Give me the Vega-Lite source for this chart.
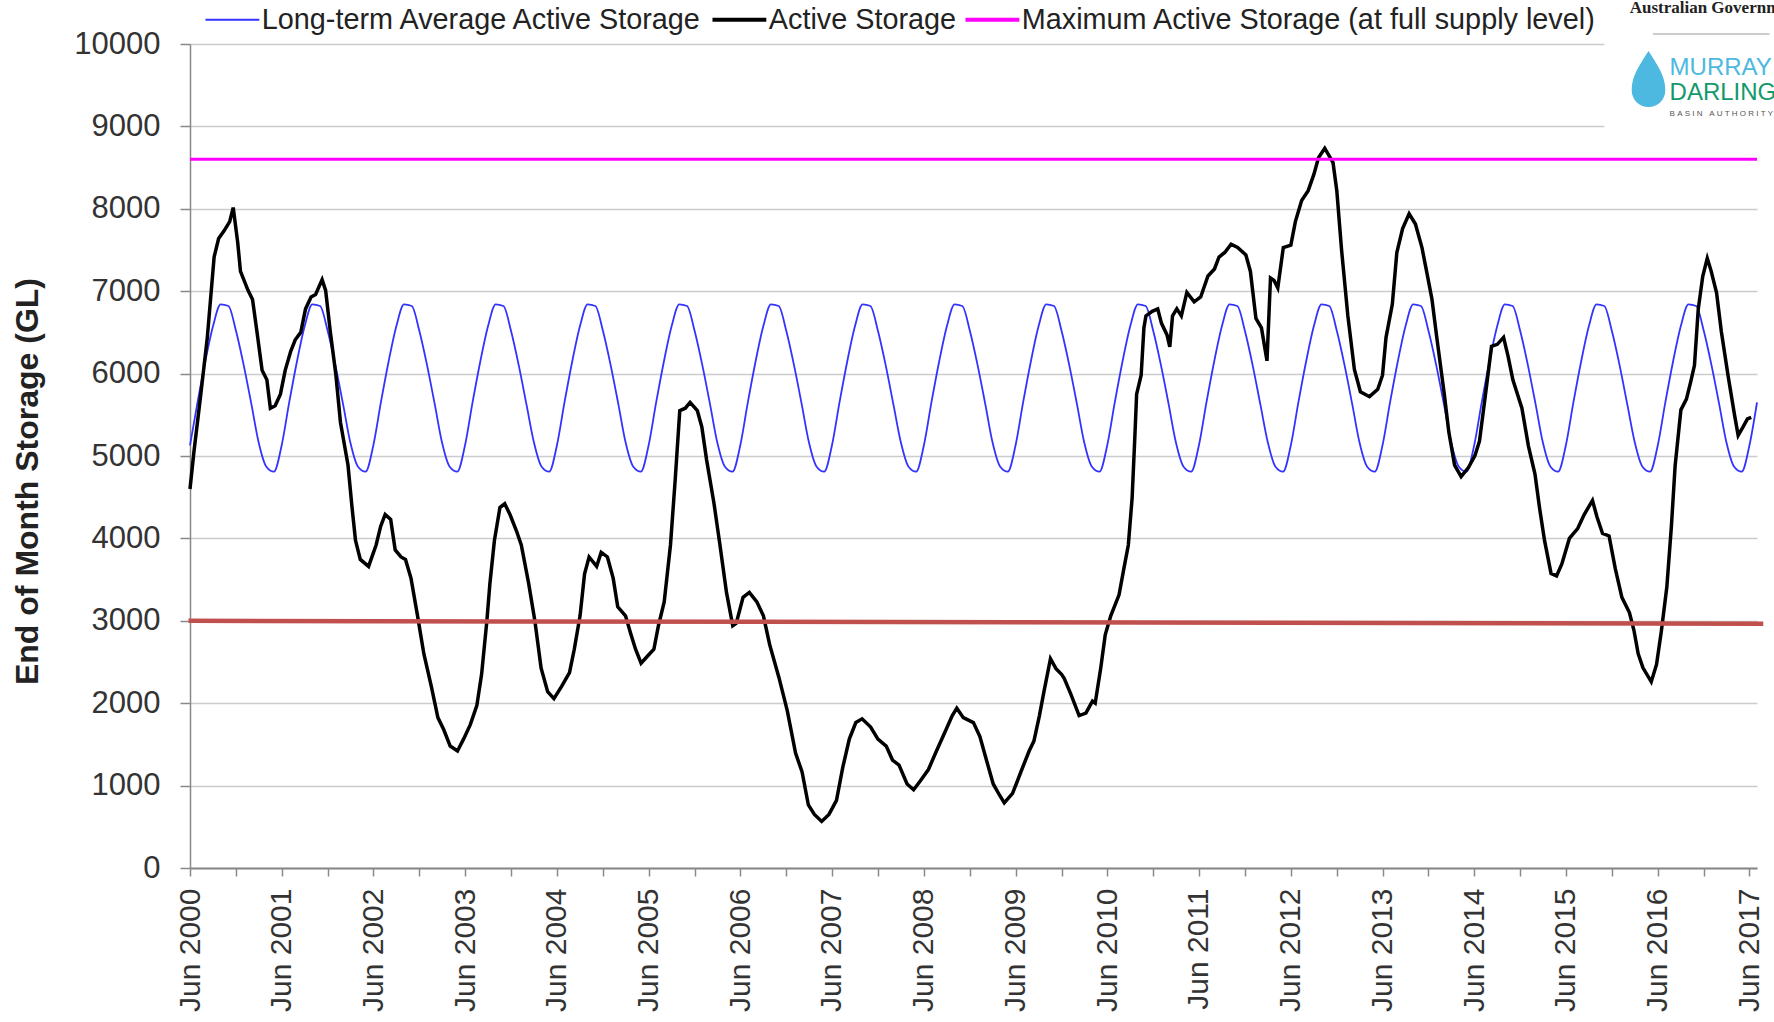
{
"$schema": "https://vega.github.io/schema/vega-lite/v6.json",
"width": 1567, "height": 824,
"autosize": {"type": "none"},
"padding": {"left": 190, "top": 44, "right": 17, "bottom": 154},
"background": "white",
"config": {"view": {"stroke": null}, "font": "Liberation Sans"},
"datasets": {
"average": [
{"date":"2000/06/01","value":5130},{"date":"2000/07/01","value":5650},{"date":"2000/08/01","value":6150},{"date":"2000/09/01","value":6580},{"date":"2000/10/01","value":6840},{"date":"2000/11/01","value":6820},{"date":"2000/12/01","value":6520},
{"date":"2001/01/01","value":6100},{"date":"2001/02/01","value":5620},{"date":"2001/03/01","value":5170},{"date":"2001/04/01","value":4870},{"date":"2001/05/01","value":4810},{"date":"2001/06/01","value":5130},{"date":"2001/07/01","value":5650},{"date":"2001/08/01","value":6150},{"date":"2001/09/01","value":6580},{"date":"2001/10/01","value":6840},{"date":"2001/11/01","value":6820},{"date":"2001/12/01","value":6520},
{"date":"2002/01/01","value":6100},{"date":"2002/02/01","value":5620},{"date":"2002/03/01","value":5170},{"date":"2002/04/01","value":4870},{"date":"2002/05/01","value":4810},{"date":"2002/06/01","value":5130},{"date":"2002/07/01","value":5650},{"date":"2002/08/01","value":6150},{"date":"2002/09/01","value":6580},{"date":"2002/10/01","value":6840},{"date":"2002/11/01","value":6820},{"date":"2002/12/01","value":6520},
{"date":"2003/01/01","value":6100},{"date":"2003/02/01","value":5620},{"date":"2003/03/01","value":5170},{"date":"2003/04/01","value":4870},{"date":"2003/05/01","value":4810},{"date":"2003/06/01","value":5130},{"date":"2003/07/01","value":5650},{"date":"2003/08/01","value":6150},{"date":"2003/09/01","value":6580},{"date":"2003/10/01","value":6840},{"date":"2003/11/01","value":6820},{"date":"2003/12/01","value":6520},
{"date":"2004/01/01","value":6100},{"date":"2004/02/01","value":5620},{"date":"2004/03/01","value":5170},{"date":"2004/04/01","value":4870},{"date":"2004/05/01","value":4810},{"date":"2004/06/01","value":5130},{"date":"2004/07/01","value":5650},{"date":"2004/08/01","value":6150},{"date":"2004/09/01","value":6580},{"date":"2004/10/01","value":6840},{"date":"2004/11/01","value":6820},{"date":"2004/12/01","value":6520},
{"date":"2005/01/01","value":6100},{"date":"2005/02/01","value":5620},{"date":"2005/03/01","value":5170},{"date":"2005/04/01","value":4870},{"date":"2005/05/01","value":4810},{"date":"2005/06/01","value":5130},{"date":"2005/07/01","value":5650},{"date":"2005/08/01","value":6150},{"date":"2005/09/01","value":6580},{"date":"2005/10/01","value":6840},{"date":"2005/11/01","value":6820},{"date":"2005/12/01","value":6520},
{"date":"2006/01/01","value":6100},{"date":"2006/02/01","value":5620},{"date":"2006/03/01","value":5170},{"date":"2006/04/01","value":4870},{"date":"2006/05/01","value":4810},{"date":"2006/06/01","value":5130},{"date":"2006/07/01","value":5650},{"date":"2006/08/01","value":6150},{"date":"2006/09/01","value":6580},{"date":"2006/10/01","value":6840},{"date":"2006/11/01","value":6820},{"date":"2006/12/01","value":6520},
{"date":"2007/01/01","value":6100},{"date":"2007/02/01","value":5620},{"date":"2007/03/01","value":5170},{"date":"2007/04/01","value":4870},{"date":"2007/05/01","value":4810},{"date":"2007/06/01","value":5130},{"date":"2007/07/01","value":5650},{"date":"2007/08/01","value":6150},{"date":"2007/09/01","value":6580},{"date":"2007/10/01","value":6840},{"date":"2007/11/01","value":6820},{"date":"2007/12/01","value":6520},
{"date":"2008/01/01","value":6100},{"date":"2008/02/01","value":5620},{"date":"2008/03/01","value":5170},{"date":"2008/04/01","value":4870},{"date":"2008/05/01","value":4810},{"date":"2008/06/01","value":5130},{"date":"2008/07/01","value":5650},{"date":"2008/08/01","value":6150},{"date":"2008/09/01","value":6580},{"date":"2008/10/01","value":6840},{"date":"2008/11/01","value":6820},{"date":"2008/12/01","value":6520},
{"date":"2009/01/01","value":6100},{"date":"2009/02/01","value":5620},{"date":"2009/03/01","value":5170},{"date":"2009/04/01","value":4870},{"date":"2009/05/01","value":4810},{"date":"2009/06/01","value":5130},{"date":"2009/07/01","value":5650},{"date":"2009/08/01","value":6150},{"date":"2009/09/01","value":6580},{"date":"2009/10/01","value":6840},{"date":"2009/11/01","value":6820},{"date":"2009/12/01","value":6520},
{"date":"2010/01/01","value":6100},{"date":"2010/02/01","value":5620},{"date":"2010/03/01","value":5170},{"date":"2010/04/01","value":4870},{"date":"2010/05/01","value":4810},{"date":"2010/06/01","value":5130},{"date":"2010/07/01","value":5650},{"date":"2010/08/01","value":6150},{"date":"2010/09/01","value":6580},{"date":"2010/10/01","value":6840},{"date":"2010/11/01","value":6820},{"date":"2010/12/01","value":6520},
{"date":"2011/01/01","value":6100},{"date":"2011/02/01","value":5620},{"date":"2011/03/01","value":5170},{"date":"2011/04/01","value":4870},{"date":"2011/05/01","value":4810},{"date":"2011/06/01","value":5130},{"date":"2011/07/01","value":5650},{"date":"2011/08/01","value":6150},{"date":"2011/09/01","value":6580},{"date":"2011/10/01","value":6840},{"date":"2011/11/01","value":6820},{"date":"2011/12/01","value":6520},
{"date":"2012/01/01","value":6100},{"date":"2012/02/01","value":5620},{"date":"2012/03/01","value":5170},{"date":"2012/04/01","value":4870},{"date":"2012/05/01","value":4810},{"date":"2012/06/01","value":5130},{"date":"2012/07/01","value":5650},{"date":"2012/08/01","value":6150},{"date":"2012/09/01","value":6580},{"date":"2012/10/01","value":6840},{"date":"2012/11/01","value":6820},{"date":"2012/12/01","value":6520},
{"date":"2013/01/01","value":6100},{"date":"2013/02/01","value":5620},{"date":"2013/03/01","value":5170},{"date":"2013/04/01","value":4870},{"date":"2013/05/01","value":4810},{"date":"2013/06/01","value":5130},{"date":"2013/07/01","value":5650},{"date":"2013/08/01","value":6150},{"date":"2013/09/01","value":6580},{"date":"2013/10/01","value":6840},{"date":"2013/11/01","value":6820},{"date":"2013/12/01","value":6520},
{"date":"2014/01/01","value":6100},{"date":"2014/02/01","value":5620},{"date":"2014/03/01","value":5170},{"date":"2014/04/01","value":4870},{"date":"2014/05/01","value":4810},{"date":"2014/06/01","value":5130},{"date":"2014/07/01","value":5650},{"date":"2014/08/01","value":6150},{"date":"2014/09/01","value":6580},{"date":"2014/10/01","value":6840},{"date":"2014/11/01","value":6820},{"date":"2014/12/01","value":6520},
{"date":"2015/01/01","value":6100},{"date":"2015/02/01","value":5620},{"date":"2015/03/01","value":5170},{"date":"2015/04/01","value":4870},{"date":"2015/05/01","value":4810},{"date":"2015/06/01","value":5130},{"date":"2015/07/01","value":5650},{"date":"2015/08/01","value":6150},{"date":"2015/09/01","value":6580},{"date":"2015/10/01","value":6840},{"date":"2015/11/01","value":6820},{"date":"2015/12/01","value":6520},
{"date":"2016/01/01","value":6100},{"date":"2016/02/01","value":5620},{"date":"2016/03/01","value":5170},{"date":"2016/04/01","value":4870},{"date":"2016/05/01","value":4810},{"date":"2016/06/01","value":5130},{"date":"2016/07/01","value":5650},{"date":"2016/08/01","value":6150},{"date":"2016/09/01","value":6580},{"date":"2016/10/01","value":6840},{"date":"2016/11/01","value":6820},{"date":"2016/12/01","value":6520},
{"date":"2017/01/01","value":6100},{"date":"2017/02/01","value":5620},{"date":"2017/03/01","value":5170},{"date":"2017/04/01","value":4870},{"date":"2017/05/01","value":4810},{"date":"2017/06/01","value":5130},{"date":"2017/07/01","value":5650}
],
"active": [
{"date":"2000/06/01","value":4600},{"date":"2000/06/17","value":5060},{"date":"2000/07/14","value":5750},{"date":"2000/08/09","value":6440},{"date":"2000/09/05","value":7415},{"date":"2000/09/23","value":7640},{"date":"2000/10/14","value":7730},{"date":"2000/11/06","value":7845},{"date":"2000/11/20","value":8015},{"date":"2000/12/08","value":7590},{"date":"2000/12/19","value":7240},
{"date":"2001/01/18","value":7010},{"date":"2001/02/05","value":6900},{"date":"2001/02/23","value":6500},{"date":"2001/03/15","value":6040},{"date":"2001/04/03","value":5925},{"date":"2001/04/17","value":5580},{"date":"2001/05/06","value":5610},{"date":"2001/05/27","value":5750},{"date":"2001/06/15","value":6040},{"date":"2001/07/07","value":6270},{"date":"2001/07/25","value":6410},{"date":"2001/08/16","value":6500},{"date":"2001/09/04","value":6785},{"date":"2001/09/26","value":6930},{"date":"2001/10/14","value":6960},{"date":"2001/11/09","value":7140},{"date":"2001/11/23","value":7010},{"date":"2001/12/12","value":6500},
{"date":"2002/01/03","value":5980},{"date":"2002/01/21","value":5410},{"date":"2002/02/20","value":4890},{"date":"2002/03/08","value":4380},{"date":"2002/03/22","value":3975},{"date":"2002/04/10","value":3745},{"date":"2002/05/13","value":3660},{"date":"2002/06/12","value":3920},{"date":"2002/06/30","value":4145},{"date":"2002/07/18","value":4290},{"date":"2002/08/09","value":4230},{"date":"2002/08/27","value":3860},{"date":"2002/09/19","value":3775},{"date":"2002/10/07","value":3745},{"date":"2002/10/29","value":3515},{"date":"2002/11/24","value":3060},{"date":"2002/12/19","value":2600},
{"date":"2003/01/18","value":2200},{"date":"2003/02/13","value":1825},{"date":"2003/03/08","value":1680},{"date":"2003/04/03","value":1480},{"date":"2003/05/02","value":1420},{"date":"2003/05/27","value":1570},{"date":"2003/06/22","value":1740},{"date":"2003/07/18","value":1970},{"date":"2003/08/06","value":2350},{"date":"2003/08/27","value":3000},{"date":"2003/09/08","value":3450},{"date":"2003/09/26","value":3975},{"date":"2003/10/18","value":4375},{"date":"2003/11/06","value":4420},{"date":"2003/11/27","value":4290},{"date":"2003/12/23","value":4090},
{"date":"2004/01/11","value":3920},{"date":"2004/02/09","value":3460},{"date":"2004/03/05","value":3000},{"date":"2004/03/30","value":2425},{"date":"2004/04/25","value":2140},{"date":"2004/05/20","value":2055},{"date":"2004/06/19","value":2200},{"date":"2004/07/21","value":2370},{"date":"2004/08/09","value":2655},{"date":"2004/09/01","value":3060},{"date":"2004/09/19","value":3570},{"date":"2004/10/07","value":3775},{"date":"2004/11/06","value":3660},{"date":"2004/11/24","value":3830},{"date":"2004/12/19","value":3775},
{"date":"2005/01/11","value":3515},{"date":"2005/01/29","value":3170},{"date":"2005/03/01","value":3060},{"date":"2005/03/23","value":2830},{"date":"2005/04/10","value":2655},{"date":"2005/05/02","value":2485},{"date":"2005/05/27","value":2570},{"date":"2005/06/22","value":2655},{"date":"2005/07/10","value":2940},{"date":"2005/08/02","value":3230},{"date":"2005/08/27","value":3920},{"date":"2005/09/15","value":4720},{"date":"2005/10/03","value":5550},{"date":"2005/10/25","value":5580},{"date":"2005/11/13","value":5650},{"date":"2005/12/12","value":5550},{"date":"2005/12/30","value":5350},
{"date":"2006/01/18","value":4950},{"date":"2006/02/16","value":4430},{"date":"2006/03/12","value":3920},{"date":"2006/04/07","value":3345},{"date":"2006/05/02","value":2940},{"date":"2006/05/16","value":2970},{"date":"2006/06/12","value":3285},{"date":"2006/07/07","value":3345},{"date":"2006/08/06","value":3230},{"date":"2006/09/01","value":3060},{"date":"2006/09/26","value":2710},{"date":"2006/11/02","value":2310},{"date":"2006/12/05","value":1910},
{"date":"2007/01/07","value":1395},{"date":"2007/02/02","value":1165},{"date":"2007/02/27","value":765},{"date":"2007/03/23","value":650},{"date":"2007/04/21","value":565},{"date":"2007/05/20","value":650},{"date":"2007/06/19","value":820},{"date":"2007/07/14","value":1220},{"date":"2007/08/09","value":1565},{"date":"2007/09/04","value":1765},{"date":"2007/09/29","value":1810},{"date":"2007/11/02","value":1710},{"date":"2007/12/01","value":1565},
{"date":"2008/01/03","value":1480},{"date":"2008/01/28","value":1310},{"date":"2008/02/23","value":1250},{"date":"2008/03/26","value":1020},{"date":"2008/04/21","value":950},{"date":"2008/05/16","value":1050},{"date":"2008/06/19","value":1195},{"date":"2008/07/21","value":1420},{"date":"2008/08/24","value":1650},{"date":"2008/09/22","value":1850},{"date":"2008/10/10","value":1940},{"date":"2008/11/05","value":1825},{"date":"2008/12/15","value":1765},
{"date":"2009/01/10","value":1595},{"date":"2009/02/05","value":1310},{"date":"2009/03/04","value":1020},{"date":"2009/03/30","value":880},{"date":"2009/04/17","value":790},{"date":"2009/05/20","value":905},{"date":"2009/06/22","value":1165},{"date":"2009/07/25","value":1420},{"date":"2009/08/13","value":1540},{"date":"2009/09/04","value":1850},{"date":"2009/09/22","value":2140},{"date":"2009/10/18","value":2540},{"date":"2009/11/09","value":2420},{"date":"2009/12/01","value":2350},{"date":"2009/12/12","value":2300},
{"date":"2010/01/07","value":2110},{"date":"2010/02/09","value":1850},{"date":"2010/03/08","value":1880},{"date":"2010/04/03","value":2025},{"date":"2010/04/14","value":2000},{"date":"2010/05/06","value":2425},{"date":"2010/05/24","value":2830},{"date":"2010/06/15","value":3060},{"date":"2010/07/18","value":3315},{"date":"2010/08/06","value":3630},{"date":"2010/08/24","value":3920},{"date":"2010/09/08","value":4490},{"date":"2010/09/19","value":5240},{"date":"2010/09/26","value":5750},{"date":"2010/10/14","value":5980},{"date":"2010/10/25","value":6555},{"date":"2010/11/02","value":6700},{"date":"2010/11/27","value":6755},{"date":"2010/12/19","value":6785},
{"date":"2011/01/03","value":6610},{"date":"2011/01/25","value":6470},{"date":"2011/02/05","value":6325},{"date":"2011/02/16","value":6700},{"date":"2011/03/05","value":6785},{"date":"2011/03/23","value":6700},{"date":"2011/04/14","value":6985},{"date":"2011/05/13","value":6870},{"date":"2011/06/08","value":6930},{"date":"2011/07/07","value":7185},{"date":"2011/08/02","value":7270},{"date":"2011/08/20","value":7415},{"date":"2011/09/12","value":7470},{"date":"2011/10/07","value":7570},{"date":"2011/11/02","value":7530},{"date":"2011/12/05","value":7440},{"date":"2011/12/23","value":7240},
{"date":"2012/01/14","value":6670},{"date":"2012/02/05","value":6555},{"date":"2012/02/27","value":6155},{"date":"2012/03/12","value":7160},{"date":"2012/03/26","value":7130},{"date":"2012/04/10","value":7040},{"date":"2012/05/02","value":7530},{"date":"2012/06/01","value":7560},{"date":"2012/06/19","value":7845},{"date":"2012/07/14","value":8100},{"date":"2012/08/09","value":8220},{"date":"2012/09/01","value":8420},{"date":"2012/09/19","value":8620},{"date":"2012/10/14","value":8735},{"date":"2012/11/16","value":8560},{"date":"2012/12/01","value":8220},{"date":"2012/12/20","value":7500},
{"date":"2013/01/14","value":6700},{"date":"2013/02/09","value":6050},{"date":"2013/03/05","value":5780},{"date":"2013/04/10","value":5720},{"date":"2013/05/13","value":5810},{"date":"2013/06/01","value":5980},{"date":"2013/06/15","value":6440},{"date":"2013/07/10","value":6840},{"date":"2013/07/28","value":7470},{"date":"2013/08/20","value":7760},{"date":"2013/09/15","value":7940},{"date":"2013/10/10","value":7815},{"date":"2013/11/05","value":7530},{"date":"2013/11/27","value":7185},{"date":"2013/12/15","value":6900},
{"date":"2014/01/03","value":6440},{"date":"2014/02/02","value":5750},{"date":"2014/02/20","value":5290},{"date":"2014/03/15","value":4890},{"date":"2014/04/10","value":4750},{"date":"2014/05/09","value":4860},{"date":"2014/06/04","value":5005},{"date":"2014/06/22","value":5180},{"date":"2014/07/14","value":5700},{"date":"2014/08/09","value":6330},{"date":"2014/09/01","value":6355},{"date":"2014/09/26","value":6440},{"date":"2014/10/14","value":6210},{"date":"2014/11/02","value":5925},{"date":"2014/12/08","value":5580},
{"date":"2015/01/03","value":5120},{"date":"2015/01/29","value":4780},{"date":"2015/02/16","value":4375},{"date":"2015/03/08","value":3975},{"date":"2015/04/03","value":3575},{"date":"2015/04/25","value":3545},{"date":"2015/05/16","value":3690},{"date":"2015/06/15","value":4000},{"date":"2015/07/18","value":4120},{"date":"2015/08/13","value":4290},{"date":"2015/09/15","value":4460},{"date":"2015/10/03","value":4260},{"date":"2015/10/25","value":4060},{"date":"2015/11/20","value":4030},{"date":"2015/12/15","value":3630},
{"date":"2016/01/10","value":3285},{"date":"2016/02/09","value":3100},{"date":"2016/02/27","value":2885},{"date":"2016/03/15","value":2600},{"date":"2016/04/03","value":2430},{"date":"2016/05/06","value":2260},{"date":"2016/05/27","value":2470},{"date":"2016/06/15","value":2870},{"date":"2016/07/07","value":3410},{"date":"2016/07/25","value":4140},{"date":"2016/08/09","value":4880},{"date":"2016/09/01","value":5560},{"date":"2016/09/23","value":5690},{"date":"2016/10/10","value":5900},{"date":"2016/10/25","value":6100},{"date":"2016/11/09","value":6780},{"date":"2016/11/27","value":7180},{"date":"2016/12/15","value":7400},{"date":"2016/12/30","value":7250},
{"date":"2017/01/21","value":6980},{"date":"2017/02/09","value":6510},{"date":"2017/03/08","value":5970},{"date":"2017/04/03","value":5490},{"date":"2017/04/17","value":5250},{"date":"2017/05/06","value":5350},{"date":"2017/05/24","value":5450},{"date":"2017/06/08","value":5470}
],
"maximum": [{"date":"2000/06/01","value":8600},{"date":"2017/07/01","value":8600}],
"threshold": [{"date":"2000/05/26","value":3000},{"date":"2017/07/26","value":2965}]
},
"encoding": {
"x": {"field": "date", "type": "temporal",
 "scale": {"domain": [{"year":2000,"month":6,"date":1},{"year":2017,"month":7,"date":1}]},
 "axis": {"title": null, "grid": false,
  "values": [{"year":2000,"month":6,"date":1},{"year":2000,"month":12,"date":1},{"year":2001,"month":6,"date":1},{"year":2001,"month":12,"date":1},{"year":2002,"month":6,"date":1},{"year":2002,"month":12,"date":1},{"year":2003,"month":6,"date":1},{"year":2003,"month":12,"date":1},{"year":2004,"month":6,"date":1},{"year":2004,"month":12,"date":1},{"year":2005,"month":6,"date":1},{"year":2005,"month":12,"date":1},{"year":2006,"month":6,"date":1},{"year":2006,"month":12,"date":1},{"year":2007,"month":6,"date":1},{"year":2007,"month":12,"date":1},{"year":2008,"month":6,"date":1},{"year":2008,"month":12,"date":1},{"year":2009,"month":6,"date":1},{"year":2009,"month":12,"date":1},{"year":2010,"month":6,"date":1},{"year":2010,"month":12,"date":1},{"year":2011,"month":6,"date":1},{"year":2011,"month":12,"date":1},{"year":2012,"month":6,"date":1},{"year":2012,"month":12,"date":1},{"year":2013,"month":6,"date":1},{"year":2013,"month":12,"date":1},{"year":2014,"month":6,"date":1},{"year":2014,"month":12,"date":1},{"year":2015,"month":6,"date":1},{"year":2015,"month":12,"date":1},{"year":2016,"month":6,"date":1},{"year":2016,"month":12,"date":1},{"year":2017,"month":6,"date":1}],
  "labelExpr": "month(datum.value) == 5 ? timeFormat(datum.value, '%b %Y') : ''",
  "labelAngle": 270, "labelFont": "Liberation Sans", "labelFontSize": 30, "labelColor": "#333333",
  "labelPadding": 12, "labelFlush": false, "labelOverlap": false, "labelBound": false,
  "tickSize": 8, "tickColor": "#888888", "tickWidth": 1.5,
  "domainColor": "#888888", "domainWidth": 2}},
"y": {"field": "value", "type": "quantitative",
 "scale": {"domain": [0, 10000], "nice": false, "zero": true},
 "axis": {"title": "End of Month Storage (GL)", "format": "d",
  "values": [0,1000,2000,3000,4000,5000,6000,7000,8000,9000,10000],
  "labelFont": "Liberation Sans", "labelFontSize": 31, "labelColor": "#333333", "labelPadding": 20,
  "tickSize": 10, "tickColor": "#888888", "tickWidth": 1.5,
  "domainColor": "#888888", "domainWidth": 1.5,
  "grid": true, "gridColor": "#CCCCCC", "gridWidth": 1.5,
  "titleFont": "Liberation Sans", "titleFontSize": 32, "titleFontWeight": "bold", "titleColor": "#222222",
  "titlePadding": 29, "titleY": 437}}
},
"layer": [
{"data": {"name": "average"},
 "mark": {"type": "line", "strokeWidth": 1.8, "interpolate": "monotone"},
 "encoding": {"color": {"datum": "Long-term Average Active Storage", "type": "nominal",
   "scale": {"domain": ["Long-term Average Active Storage", "Active Storage", "Maximum Active Storage (at full supply level)"], "range": ["#3333FF", "#000000", "#FF00FF"]},
   "legend": {"title": null, "orient": "none", "legendX": 28, "legendY": -39, "direction": "horizontal",
     "symbolType": "stroke", "symbolSize": 2900, "symbolStrokeWidth": 3,
     "labelFont": "Liberation Sans", "labelFontSize": 28.8, "labelColor": "#222222", "labelOffset": 15, "labelLimit": 1000,
     "columnPadding": 0, "padding": 0,
     "encode": {"symbols": {"update": {"strokeWidth": {"signal": "datum.value === 'Long-term Average Active Storage' ? 2 : 4"}}}}}}}},
{"data": {"name": "active"},
 "mark": {"type": "line", "strokeWidth": 3.5},
 "encoding": {"color": {"datum": "Active Storage", "type": "nominal"}}},
{"data": {"name": "maximum"},
 "mark": {"type": "line", "strokeWidth": 3},
 "encoding": {"color": {"datum": "Maximum Active Storage (at full supply level)", "type": "nominal"}}},
{"data": {"name": "threshold"},
 "mark": {"type": "line", "strokeWidth": 4.5, "color": "#C0504D"},
 "encoding": {}},
{"data": {"values": [{"date": "2015/11/01", "date2": "2017/08/20", "value": 8880, "value2": 10700}]},
 "mark": {"type": "rect", "color": "white"},
 "encoding": {"x2": {"field": "date2"}, "y2": {"field": "value2"}}},
{"data": {"values": [{"date": "2016/05/13", "date2": "2017/08/20", "value": 10121}]},
 "mark": {"type": "rule", "color": "#BBBBBB", "strokeWidth": 1.5},
 "encoding": {"x2": {"field": "date2"}}},
{"data": {"values": [{"date": "2016/02/10", "value": 10437, "label": "Australian Government"}]},
 "mark": {"type": "text", "font": "Liberation Serif", "fontWeight": "bold", "fontSize": 17, "color": "#222222", "align": "left", "baseline": "middle"},
 "encoding": {"text": {"field": "label"}}},
{"data": {"values": [{"date": "2016/07/18", "value": 9712, "label": "MURRAY"}]},
 "mark": {"type": "text", "font": "Liberation Sans", "fontSize": 24, "color": "#4DB8E0", "align": "left", "baseline": "middle"},
 "encoding": {"text": {"field": "label"}}},
{"data": {"values": [{"date": "2016/07/18", "value": 9400, "label": "DARLING"}]},
 "mark": {"type": "text", "font": "Liberation Sans", "fontSize": 24, "color": "#12996B", "align": "left", "baseline": "middle"},
 "encoding": {"text": {"field": "label"}}},
{"data": {"values": [{"date": "2016/07/18", "value": 9150, "label": "B\u00a0A\u00a0S\u00a0I\u00a0N\u00a0\u00a0\u00a0A\u00a0U\u00a0T\u00a0H\u00a0O\u00a0R\u00a0I\u00a0T\u00a0Y"}]},
 "mark": {"type": "text", "font": "Liberation Sans", "fontSize": 8, "color": "#555555", "align": "left", "baseline": "middle"},
 "encoding": {"text": {"field": "label"}}},
{"data": {"values": [{"date": "2016/04/25", "value": 9575}]},
 "mark": {"type": "point", "filled": true, "color": "#4DB8E0", "opacity": 1, "size": 3136,
   "shape": "M0,-1 C0.35,-0.45 0.6,-0.1 0.6,0.4 A0.6,0.6 0 1 1 -0.6,0.4 C-0.6,-0.1 -0.35,-0.45 0,-1 Z"},
 "encoding": {}}
]
}
